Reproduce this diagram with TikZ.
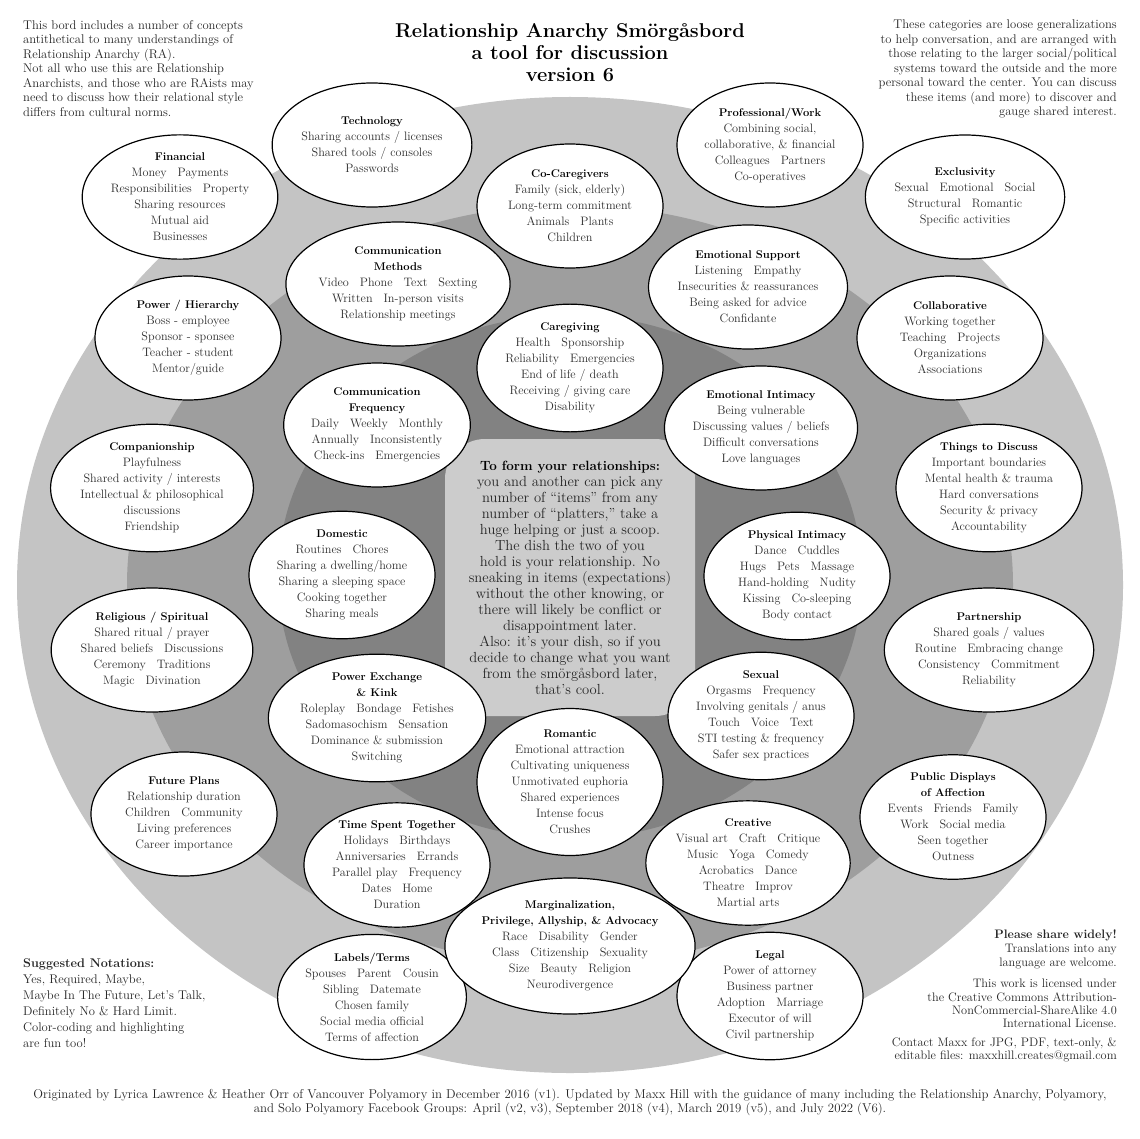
\documentclass[tikz,border=0pt]{standalone}
\usepackage{tikz}
\usetikzlibrary{shapes.geometric}

\definecolor{ringlight}{gray}{0.77}
\definecolor{ringmid}{gray}{0.62}
\definecolor{ringdark}{gray}{0.51}
\definecolor{dishgray}{gray}{0.80}

\newcommand{\head}[1]{{\fontsize{11.2}{16}\selectfont\bfseries\color{black}#1}}
\newcommand{\gap}{\hspace{0.9em}}

\begin{document}
\begin{tikzpicture}[x=1pt, y=-1pt,
    platter/.style={ellipse, draw=black, line width=1.2pt, fill=white, minimum width=186pt, minimum height=124pt,
        inner sep=0pt, align=center, text=black!82, font=\fontsize{12.2}{16}\selectfont},
    dish/.style={inner sep=0pt, align=center, text=black!85, font=\fontsize{14.6}{16}\selectfont},
    note/.style={inner sep=0pt, text=black!85, font=\fontsize{12.6}{14.5}\selectfont}]

    \useasboundingbox (0,0) rectangle (1139,1139);
    \fill[white] (0,0) rectangle (1139,1139);

    % the three platters rings
    \fill[ringlight] (570,585) ellipse [x radius=553, y radius=488];
    \fill[ringmid] (570,585) ellipse [x radius=443, y radius=380];
    \fill[ringdark] (570,577) ellipse [x radius=292, y radius=262];

    % the dish in the middle
    \fill[dishgray] (485,439) -- (655,439) .. controls (677,439) and (695,457) .. (695,479)
        -- (695,676) .. controls (695,698) and (677,716) .. (655,716)
        -- (485,716) .. controls (463,716) and (445,698) .. (445,676)
        -- (445,479) .. controls (445,457) and (463,439) .. (485,439) -- cycle;
    \node[dish] (dish) at (570,578) {{\fontsize{13.4}{16}\selectfont\bfseries\color{black}To form your relationships:}\\you and another can pick any\\number of “items” from any\\number of “platters,” take a\\huge helping or just a scoop.\\The dish the two of you\\hold is your relationship. No\\sneaking in items (expectations)\\without the other knowing, or\\there will likely be conflict or\\disappointment later.\\Also: it’s your dish, so if you\\decide to change what you want\\from the smörgåsbord later,\\that’s cool.};

    \node[font=\fontsize{20}{22}\selectfont\bfseries, align=center, inner sep=0pt] (title) at (570,53) {Relationship Anarchy Smörgåsbord\\a tool for discussion\\version 6};

    % outer ring
    \node[platter] (tech) at (372,145) {\head{Technology}\\Sharing accounts / licenses\\Shared tools / consoles\\Passwords};
    \node[platter] (fin) at (180,197) {\head{Financial}\\Money\gap Payments\\Responsibilities\gap Property\\Sharing resources\\Mutual aid\\Businesses};
    \node[platter] (prof) at (770,145) {\head{Professional/Work}\\Combining social,\\collaborative, \& financial\\Colleagues\gap Partners\\Co-operatives};
    \node[platter] (excl) at (965,197) {\head{Exclusivity}\\Sexual\gap Emotional\gap Social\\Structural\gap Romantic\\Specific activities};
    \node[platter] (power) at (188,338) {\head{Power / Hierarchy}\\Boss - employee\\Sponsor - sponsee\\Teacher - student\\Mentor/guide};
    \node[platter] (collab) at (950,338) {\head{Collaborative}\\Working together\\Teaching\gap Projects\\Organizations\\Associations};
    \node[platter] (compan) at (152,488) {\head{Companionship}\\Playfulness\\Shared activity / interests\\Intellectual \& philosophical\\discussions\\Friendship};
    \node[platter] (discuss) at (989,488) {\head{Things to Discuss}\\Important boundaries\\Mental health \& trauma\\Hard conversations\\Security \& privacy\\Accountability};
    \node[platter] (relig) at (152,650) {\head{Religious / Spiritual}\\Shared ritual / prayer\\Shared beliefs\gap Discussions\\Ceremony\gap Traditions\\Magic\gap Divination};
    \node[platter] (partner) at (989,650) {\head{Partnership}\\Shared goals / values\\Routine\gap Embracing change\\Consistency\gap Commitment\\Reliability};
    \node[platter] (future) at (184,814) {\head{Future Plans}\\Relationship duration\\Children\gap Community\\Living preferences\\Career importance};
    \node[platter] (pda) at (953,817) {\head{Public Displays}\\\head{of Affection}\\Events\gap Friends\gap Family\\Work\gap Social media\\Seen together\\Outness};
    \node[platter] (labels) at (372,997) {\head{Labels/Terms}\\Spouses\gap Parent\gap Cousin\\Sibling\gap Datemate\\Chosen family\\Social media official\\Terms of affection};
    \node[platter] (legal) at (770,996) {\head{Legal}\\Power of attorney\\Business partner\\Adoption\gap Marriage\\Executor of will\\Civil partnership};

    % middle ring
    \node[platter] (cocare) at (570,206) {\head{Co-Caregivers}\\Family (sick, elderly)\\Long-term commitment\\Animals\gap Plants\\Children};
    \node[platter] (commeth) at (398,284) {\head{Communication}\\\head{Methods}\\Video\gap Phone\gap Text\gap Sexting\\Written\gap In-person visits\\Relationship meetings};
    \node[platter] (emosup) at (748,287) {\head{Emotional Support}\\Listening\gap Empathy\\Insecurities \& reassurances\\Being asked for advice\\Confidante};
    \node[platter] (timespent) at (397,865) {\head{Time Spent Together}\\Holidays\gap Birthdays\\Anniversaries\gap Errands\\Parallel play\gap Frequency\\Dates\gap Home\\Duration};
    \node[platter] (creative) at (748,863) {\head{Creative}\\Visual art\gap Craft\gap Critique\\Music\gap Yoga\gap Comedy\\Acrobatics\gap Dance\\Theatre\gap Improv\\Martial arts};
    \node[platter, minimum width=206pt, minimum height=136pt] (margin) at (570,946) {\head{Marginalization,}\\\head{Privilege, Allyship, \& Advocacy}\\Race\gap Disability\gap Gender\\Class\gap Citizenship\gap Sexuality\\Size\gap Beauty\gap Religion\\Neurodivergence};

    % inner ring
    \node[platter] (caregive) at (570,368) {\head{Caregiving}\\Health\gap Sponsorship\\Reliability\gap Emergencies\\End of life / death\\Receiving / giving care\\Disability};
    \node[platter] (commfreq) at (377,425) {\head{Communication}\\\head{Frequency}\\Daily\gap Weekly\gap Monthly\\Annually\gap Inconsistently\\Check-ins\gap Emergencies};
    \node[platter] (emoint) at (761,428) {\head{Emotional Intimacy}\\Being vulnerable\\Discussing values / beliefs\\Difficult conversations\\Love languages};
    \node[platter] (domestic) at (342,575) {\head{Domestic}\\Routines\gap Chores\\Sharing a dwelling/home\\Sharing a sleeping space\\Cooking together\\Sharing meals};
    \node[platter] (physint) at (797,576) {\head{Physical Intimacy}\\Dance\gap Cuddles\\Hugs\gap Pets\gap Massage\\Hand-holding\gap Nudity\\Kissing\gap Co-sleeping\\Body contact};
    \node[platter] (kink) at (377,718) {\head{Power Exchange}\\\head{\& Kink}\\Roleplay\gap Bondage\gap Fetishes\\Sadomasochism\gap Sensation\\Dominance \& submission\\Switching};
    \node[platter] (sexual) at (761,716) {\head{Sexual}\\Orgasms\gap Frequency\\Involving genitals / anus\\Touch\gap Voice\gap Text\\STI testing \& frequency\\Safer sex practices};
    \node[platter] (romantic) at (570,782) {\head{Romantic}\\Emotional attraction\\Cultivating uniqueness\\Unmotivated euphoria\\Shared experiences\\Intense focus\\Crushes};

    % corner notes
    \node[note, anchor=north west, align=left] (bord) at (23,20) {This bord includes a number of concepts\\antithetical to many understandings of\\Relationship Anarchy (RA).\\Not all who use this are Relationship\\Anarchists, and those who are RAists may\\need to discuss how their relational style\\differs from cultural norms.};
    \node[note, anchor=north east, align=right] (categories) at (1117,20) {These categories are loose generalizations\\to help conversation, and are arranged with\\those relating to the larger social/political\\systems toward the outside and the more\\personal toward the center. You can discuss\\these items (and more) to discover and\\gauge shared interest.};
    \node[note, anchor=north west, align=left, font=\fontsize{12.6}{16}\selectfont] (notations) at (23,958) {\textbf{Suggested Notations:}\\Yes, Required, Maybe,\\Maybe In The Future, Let’s Talk,\\Definitely No \& Hard Limit.\\Color-coding and highlighting\\are fun too!};
    \node[note, anchor=north east, align=right, font=\fontsize{12.3}{14}\selectfont] (share) at (1117,930) {\textbf{Please share widely!}\\Translations into any\\language are welcome.};
    \node[note, anchor=north east, align=right, font=\fontsize{12.3}{13.3}\selectfont] (licence) at (1117,979) {This work is licensed under\\the Creative Commons Attribution-\\NonCommercial-ShareAlike 4.0\\International License.};
    \node[note, anchor=north east, align=right, font=\fontsize{12.3}{13.3}\selectfont] (contact) at (1117,1037) {Contact Maxx for JPG, PDF, text-only, \&\\editable files: maxxhill.creates@gmail.com};
    \node[note, align=center, font=\fontsize{12.8}{14}\selectfont] (credits) at (570,1102) {Originated by Lyrica Lawrence \& Heather Orr of Vancouver Polyamory in December 2016 (v1). Updated by Maxx Hill with the guidance of many including the Relationship Anarchy, Polyamory,\\and Solo Polyamory Facebook Groups: April (v2, v3), September 2018 (v4), March 2019 (v5), and July 2022 (V6).};
\end{tikzpicture}
\end{document}
